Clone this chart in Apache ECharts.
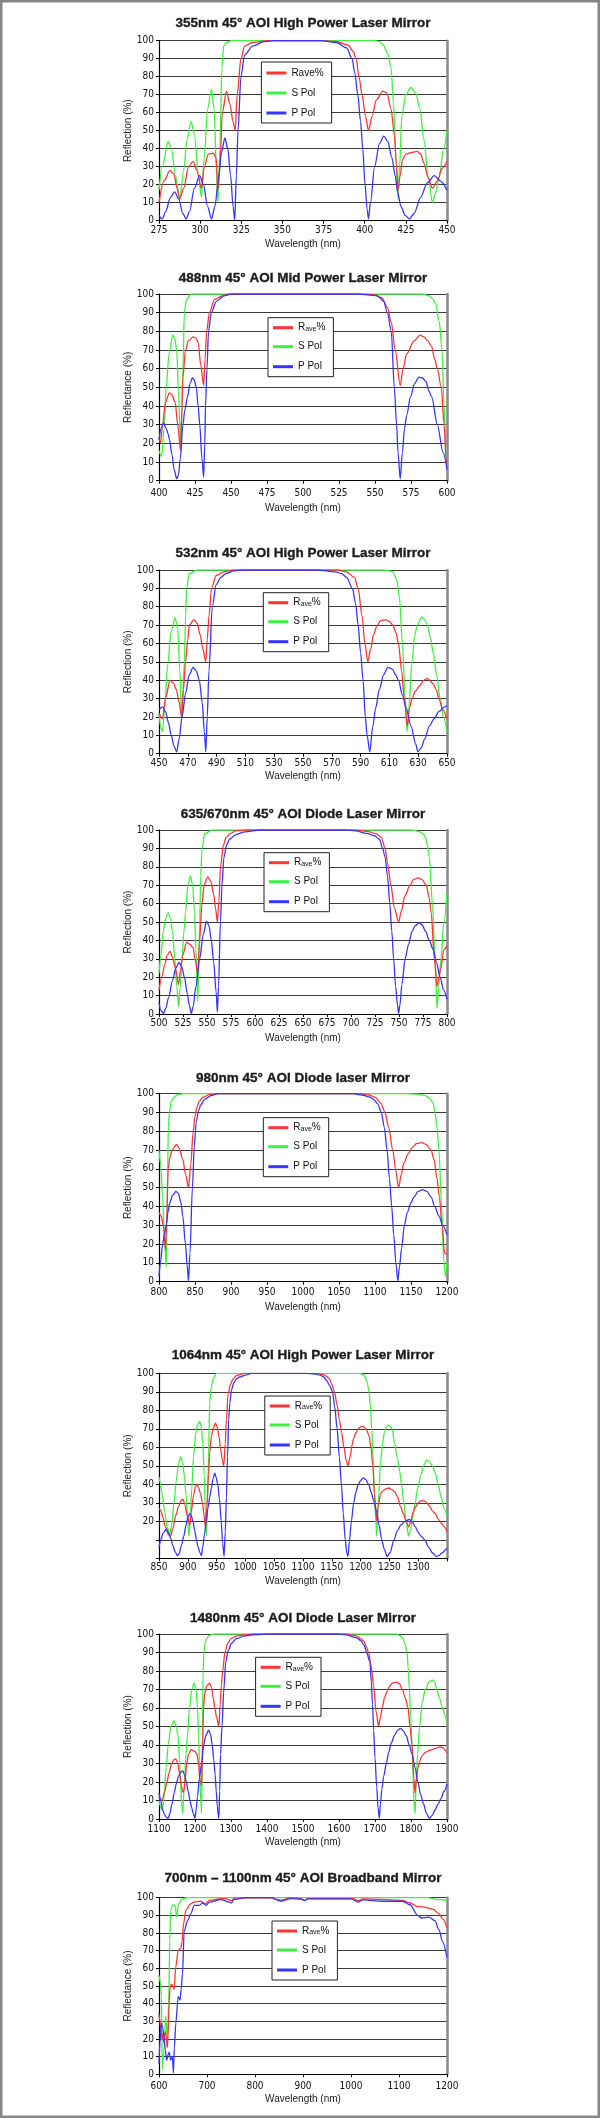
<!DOCTYPE html>
<html><head><meta charset="utf-8">
<script src="https://cdn.jsdelivr.net/npm/echarts@6/dist/echarts.min.js"></script>
<style>html,body{margin:0;padding:0;background:#fff}#c{width:600px;height:2118px}</style>
</head><body><div id="c"></div>
<script>
// ---------- DATA ----------
const titles = [
  '355nm 45° AOI High Power Laser Mirror',
  '488nm 45° AOI Mid Power Laser Mirror',
  '532nm 45° AOI High Power Laser Mirror',
  '635/670nm 45° AOI Diode Laser Mirror',
  '980nm 45° AOI Diode laser Mirror',
  '1064nm 45° AOI High Power Laser Mirror',
  '1480nm 45° AOI Diode Laser Mirror',
  '700nm – 1100nm 45° AOI Broadband Mirror'
];
const yNames = ['Reflection (%)','Reflectance (%)','Reflection (%)','Reflection (%)','Reflection (%)','Reflection (%)','Reflection (%)','Reflectance (%)'];
const xName = 'Wavelength (nm)';
// [min, max, step] of wavelength axis
const xRanges = [[275,450,25],[400,600,25],[450,650,20],[500,800,25],[800,1200,50],[850,1350,50],[1100,1900,100],[600,1200,100]];
const legendNames = ['Rave%','S Pol','P Pol'];

// 355nm
const S1 = [[275,17],[277,30],[280.6,44],[282.5,40],[285,25],[287.6,12],[290,28],[292,45],[294.5,55],[296.5,48],[299,25],[300.8,13],[302.5,35],[304.5,62],[306.9,73],[308.5,62],[310,25],[310.8,10],[312,40],[313.2,85],[314.3,97],[316,99],[319,100],[406,100],[409,99.5],[411,98],[414,93],[416,85],[417.5,65],[419,35],[420.2,12],[421.2,30],[422.5,58],[425,70],[428,74],[431,71],[433.5,62],[436,45],[438.5,25],[441.2,10],[443,15],[445,23],[448,40],[450,50]];
const R1 = [[275,10],[278,22],[281.7,28],[284,26],[286,18],[287.6,12],[290,18],[293,30],[295.7,33],[298,28],[300.8,18],[302.5,30],[305,37],[308,37.5],[309.7,35],[310.8,17],[312,30],[313.5,60],[316,72],[318,65],[320,55],[321.3,50],[322.5,70],[324.8,90],[327,97],[331.8,99],[341,100],[373.7,100],[383,99.5],[390,97.5],[393,94],[394.8,90],[396.5,80],[398.4,70],[400.5,58],[402.3,50],[404.5,58],[407,67],[411,72],[413.5,71],[416,62],[418,48],[419.2,32],[420.2,17],[421.5,25],[423,34],[425,37],[429,38],[432,38.5],[434,37],[436,32],[438.5,24],[441.2,18],[444,22],[447,29],[450,33]];
const P1 = [[275,3],[277,1],[279,5],[282,13],[284.5,16],[287,12],[289.5,4],[291.5,1],[293.5,5],[296.5,18],[299.7,25],[302,20],[304.5,8],[306.9,1],[309,8],[311,22],[313,38],[315,46],[316.8,40],[318.5,25],[320,8],[321,0.3],[322,25],[323,50],[324.8,80],[327,92],[331.8,97],[339,99.5],[345,100],[373,100],[383,99],[389,96],[392.3,90],[394,82],[395.8,70],[397.5,55],[398.8,40],[400.2,20],[401.5,6],[402.3,1],[403.5,10],[406,30],[409,43],[411.6,47],[414,44],[416.5,35],[418.5,25],[420,16],[422,8],[424.5,3],[427.2,1],[430,4],[434,13],[438,21],[442.3,25],[446,22],[450,17]];

// 488nm
const S2 = [[400,16],[401.9,13],[403.5,28],[405,50],[407,68],[409.6,78],[411,76],[412.3,70],[413.5,48],[415,18],[415.8,35],[416.6,60],[417.6,90],[419,97],[422.4,100],[582.6,100],[587.9,99],[590,97.5],[592,95],[594.7,85],[596.5,70],[598,40],[599.3,15],[600,10]];
const R2 = [[400,23],[401,20],[402.5,30],[404.5,42],[407.2,47],[409,46],[411.2,42],[413,30],[415,16],[416,40],[416.6,55],[418.4,70],[420.5,75],[423.8,77],[426,76],[427.2,74],[429,62],[431,51],[432,65],[433.1,80],[435,90],[438.5,97],[443.8,99],[449,100],[540,100],[549.3,99.5],[554.6,98],[558.6,93],[561.3,85],[564,70],[567.5,51],[569.5,60],[572,68],[577.3,75],[581.3,78],[584,77],[586.6,75],[589.3,72],[591.5,65],[593.3,60],[596,50],[598,30],[599.3,12],[600,10]];
const P2 = [[400,22],[401.5,28],[403.2,31],[405,28],[406.4,25],[407.3,22],[409,14],[410.5,6],[412.3,1],[413.5,3],[414.8,12],[416.6,30],[418,38],[419.8,45],[421.5,52],[423.2,55],[424.5,54],[425.9,50],[427.2,40],[428.3,30],[429.8,12],[431,2],[431.8,20],[432.3,40],[433.3,60],[434.4,80],[436.3,90],[439.8,96],[445.1,99],[450.5,100],[536,100],[545,99.5],[551.9,99],[556,96],[558.6,90],[561.3,80],[563.4,50],[565,30],[566,15],[567.5,1],[569,15],[570.5,28],[572,35],[574.7,45],[577.5,52],[580.5,55.5],[583,55],[585.4,53],[587.5,48],[589.3,45],[593.3,30],[597.3,15],[600,6]];

// 532nm
const S3 = [[450,22],[451,15],[452.4,12],[454,25],[456,48],[458.5,67],[461.2,74],[463,68],[464.5,45],[465.7,20],[466.7,35],[467.6,50],[468.5,75],[469.2,90],[471,98],[476.4,100],[605.7,100],[610,99.5],[612.4,99],[615,95],[617,85],[619,60],[621,30],[622.3,12],[623.5,25],[625.7,50],[627.5,64],[629.3,70],[632.4,74.5],[634.5,73],[636.4,70],[638.5,63],[640.4,55],[643,42],[645.2,30],[647.5,20],[650,12]];
const R3 = [[450,22],[452.4,19],[454.5,30],[457.7,40],[460,38.5],[462,35],[464,28],[465.7,20],[467,35],[468.4,50],[470,62],[471,70],[474.3,73],[476.5,71],[478.5,65],[480.5,57],[482.5,50],[483.5,62],[484.7,75],[486.5,90],[489.7,97],[495,99],[503,100],[573.7,100],[580.3,99],[585.7,96],[588.3,90],[591,75],[593,60],[595,50],[597,57],[599,65],[601.6,70],[604,72.5],[607,73],[610,72],[612.4,70],[614.5,66],[616.3,60],[618.5,45],[620.3,30],[622.5,15],[624,25],[625.7,30],[628,34],[631,37],[634,40],[636.4,41],[638.5,39.5],[640.4,38],[642.5,35],[644.4,30],[647,24],[650,19]];
const P3 = [[450,24],[452.4,25.5],[454.5,23],[456.5,17],[458.5,10],[460.5,4],[462.3,1],[464,8],[466,20],[468.5,33],[471,43],[473.7,47],[476,45],[478,40],[480,28],[481.5,12],[482.5,1],[483.5,20],[484.7,45],[487,80],[489.7,92],[493,96],[496.4,98],[502,99.5],[509.7,100],[559,100],[566,99.6],[572.4,99],[577,98],[580.3,96],[584.3,90],[586.5,82],[588.3,70],[590,55],[591.7,40],[593.3,20],[594.5,10],[596.4,1],[598.5,15],[600.5,25],[603,35],[606,43],[609,47],[612,46],[614.3,43],[616.3,40],[619,32],[621.6,25],[625,15],[628.4,5],[629.7,1],[632,3],[634.5,8],[637.7,15],[641,19],[644.5,23],[648.3,25.5],[650,26]];

// 635/670nm
const S4 = [[500,22],[502,32],[504.5,45],[507,52],[509.6,55],[512,52],[514,45],[516.5,30],[518.5,15],[520.4,4],[522,14],[524,30],[526,45],[527.6,55],[530,70],[532.8,75],[535,70],[537,55],[538.5,35],[540.4,7],[541.5,28],[542.4,50],[543.5,75],[544.8,90],[547.6,98],[555.6,100],[763.6,100],[768,99.5],[771.6,99],[775,98],[777.6,96],[779.5,92],[781.6,85],[784.8,60],[787.6,30],[789.6,3],[791.5,15],[793.6,30],[796.8,50],[800,66]];
const R4 = [[500,13],[503,20],[506,27],[508.5,32],[511.6,34],[514,31],[517,25],[520.4,16],[522.5,24],[524.8,32],[528.8,39],[532,38],[535.6,36],[537.5,30],[540.4,22],[542,38],[544.8,60],[547,70],[550.8,74.5],[554,72],[557,65],[559,57],[560.8,50],[562.5,62],[564,80],[567.2,92],[570,96],[574,98],[580,99.5],[589.6,100],[703.6,100],[712,99.5],[719.6,99],[726,98],[731.6,96],[735.6,90],[738,82],[741.6,70],[745,58],[749.6,50],[752.5,56],[756,64],[761.6,70],[765,73],[769.6,74],[774,73],[778.4,70],[781.5,63],[783.5,55],[786.8,30],[789.6,15],[791.5,20],[793.6,25],[796.8,35],[800,37]];
const P4 = [[500,6],[502,2],[504.8,0.3],[507,3],[510,9],[514,18],[517.5,25],[520.8,28],[523.5,26],[526.5,20],[529.5,11],[531.5,5],[533.6,0.3],[535.5,4],[538.5,15],[542.4,30],[546,43],[549.6,50.5],[552,48],[554.5,40],[557,28],[559.5,12],[560.8,1],[562,15],[564,50],[565.6,70],[567.6,85],[570.5,92],[573.6,95],[580,97.5],[589.6,99],[605.6,100],[693.6,100],[705,99.5],[717.6,98],[724,97],[729.6,95],[733,90],[735.6,85],[738,75],[740.4,60],[742.5,45],[744.4,30],[746.5,15],[748.4,5],[749.6,0.3],[751,5],[753,16],[756.4,30],[760,38],[763.6,45],[767,48],[770.8,49.5],[774,48.5],[777.6,45],[781.5,40],[785.6,35],[789,28],[792.8,20],[796.5,13],[800,8]];

// 980nm
const S5 = [[800,70],[802.5,62],[805,45],[807.5,25],[810.1,8],[811,30],[812,60],[813,82],[814.5,90],[817,96],[820.8,98],[826,99.5],[834,100],[1143,100],[1160,99.8],[1170,99],[1176,97.5],[1180.8,95],[1183.5,90],[1186,82],[1188.8,70],[1192.5,40],[1195.7,10],[1197.9,3],[1199,6],[1200,10]];
const R5 = [[800,37],[803,35],[806,30],[809,17],[810.5,30],[812.8,60],[815,66],[818,70],[824.5,73],[828,71],[833,65],[837,57],[841,50],[844,62],[847.5,80],[850,88],[852.8,93],[856,96],[860.8,98],[870,99.5],[882,100],[1079.5,100],[1092,99.3],[1100.8,98],[1108,95],[1114,90],[1119,82],[1124.8,70],[1128.5,60],[1132.8,50],[1136.5,57],[1140,63],[1146,68],[1152,71.5],[1158,73.5],[1164.8,74],[1171,73],[1178,70],[1182,65],[1186,55],[1189.5,45],[1193,30],[1196.8,15],[1200,15]];
const P5 = [[800,3],[802,10],[805,20],[808,26],[810,30],[812.5,37],[815,42],[819,46],[823.5,48],[827,47],[830.5,42],[833,35],[836.8,20],[839,9],[841,0.3],[843,15],[846.4,50],[849,72],[851.7,85],[855,91],[858,94],[863.5,97],[872,99],[882,100],[1068.8,100],[1082,99.3],[1092,98.3],[1098,97],[1104,94.5],[1108.8,90],[1113,82],[1116.8,70],[1120,55],[1123.2,40],[1126,25],[1129,10],[1131.7,0.3],[1134,8],[1137,18],[1140.8,30],[1145,37],[1150,42],[1154,45],[1160,48],[1166.4,49],[1172,48],[1178,45],[1183,40],[1188.8,35],[1194,30],[1200,25]];

// 1064nm
const S6 = [[850,44],[852,41],[855,35],[860,25],[864,17],[868.6,13],[872,18],[876,30],[880,42],[884,51],[887.7,55],[891,52],[894,45],[897,34],[900,20],[902,12],[904,20],[907,38],[910,55],[914,68],[917,72],[920.7,74],[923.5,71],[926,62],[928.5,45],[930.5,25],[932.3,12],[934,28],[936,55],[938,84],[941,93],[944,97],[949.7,100],[1198,100],[1204,99.4],[1208,98],[1211.5,95],[1214.7,90],[1217,82],[1219.3,70],[1221.5,55],[1223.3,40],[1226,22],[1228,12],[1229.5,22],[1231.3,34],[1234.7,52],[1238,62],[1241.3,68],[1244.5,71],[1248,72],[1251,71.5],[1254.7,70],[1259,62],[1264,54],[1268,47],[1271,40],[1274.7,30.6],[1279,20],[1283.3,12],[1287,16],[1291,23],[1294.7,30],[1299,38],[1304.7,45],[1309,50],[1314.7,53],[1319,52.5],[1324.7,50],[1330,46],[1334.7,40],[1340,33],[1345,27],[1350,23]];
const R6 = [[850,27],[853,26],[857,22],[861,17],[866,13],[870,12],[874,16],[879,23],[884,28],[888,31],[891.7,32],[895,29],[899,23],[903.4,18],[906,25],[910,34],[913,38.5],[916,40],[919,38],[922,35],[925.5,30],[928,24],[930.6,17],[933,28],[936,45],[938,57],[941,66],[944,70],[948,73],[951,71],[954,66],[957,59],[960,53],[962.4,50],[965,62],[967,75],[970,89],[974,94],[978.6,97],[985,98.8],[999,100],[1124.7,100],[1132,99.5],[1138,99],[1142,98],[1146,97],[1150,94],[1154.7,90],[1159,83],[1163.3,75],[1167,68],[1171,60],[1175,53],[1178,50],[1182,55],[1185,61],[1188,65],[1192,68],[1197,70.5],[1203.3,71.5],[1208,70.5],[1211,69],[1214.7,66],[1218,60],[1221.3,50],[1224,35],[1228,20],[1230.5,28],[1234.7,35],[1239,36.5],[1244,37.5],[1249,38],[1254.7,37],[1259,36],[1264.7,33],[1269,28],[1274.7,24],[1279,20],[1283.3,17],[1287,20],[1291,25],[1296,28],[1300,30],[1304.7,31],[1310,31],[1315,30],[1320,28],[1325,25.5],[1330,24],[1335,21],[1340,19],[1345,17],[1350,14.5]];
const P6 = [[850,5.6],[853,10],[857,13.5],[862.8,15.7],[866,14],[870,11],[874,7],[878,3.5],[882,1.5],[885,2.5],[889,7],[893,12],[897,18],[900,22],[903.4,24.3],[906,23],[909,20],[912,15],[915,10],[918,6],[921,3],[923.7,1.5],[926,6],[929,13],[932,20],[935,27],[938,33],[941,38],[944,43],[946.8,46],[949,44],[952,40],[955,32],[958,20],[960.5,8],[963,1],[965,14],[967,33],[969,55],[971,75],[973,84],[975.8,91],[980,95],[984.5,97],[990,98],[1000,99],[1010.6,100],[1104.7,100],[1120,99.7],[1130,99],[1136,98],[1141.3,96],[1146,93.5],[1151.3,90],[1155,82],[1159.3,70],[1163,55],[1166.7,40],[1170,24],[1173.3,10],[1176,3],[1178,1],[1180.5,9],[1184,20],[1188,30],[1192,36],[1196,40],[1200,42],[1204.7,43.5],[1209,42.5],[1214,40],[1218,36],[1223,31],[1228,25],[1232,18],[1236.7,10],[1241,5],[1246,1],[1251,3],[1258,10],[1264,15],[1270,18],[1277,20],[1284.7,21],[1290,19.5],[1295,17],[1300,14],[1305,12],[1311.3,10],[1318,6],[1324.7,3],[1331.3,1],[1336,1.5],[1342,3],[1348.7,5],[1350,5.5]];

// 1480nm
const S7 = [[1100,10],[1105,6],[1109.6,5],[1114,12],[1120,28],[1125.6,40],[1133,50],[1141.6,53],[1148,50],[1153,45],[1157,32],[1160,18],[1163,8],[1166,3],[1170,18],[1175,35],[1179,45],[1185,60],[1191,70],[1198,73.5],[1203,70],[1207,60],[1210,45],[1213,25],[1216,10],[1218.4,3],[1220.5,45],[1222.5,80],[1224.8,90],[1228,95],[1232,97.5],[1240,99.3],[1253.6,100],[1760,100],[1768,99.3],[1776,98],[1783,95],[1789,90],[1792,82],[1795.5,70],[1799,55],[1803,40],[1806,22],[1808,10],[1811.5,3],[1814,18],[1818,35],[1824,50],[1831,63],[1840,70],[1850,74],[1859.5,75],[1866,74],[1872,70],[1880,65],[1888,60],[1894,56],[1900,52]];
const R7 = [[1100,12],[1105,10],[1110,11],[1116,15],[1122,20],[1128,25],[1135,30],[1141,32],[1147,32.5],[1152,30],[1157,25],[1162,18],[1166,14.5],[1169,15],[1173,22],[1177,30],[1182,35],[1189.6,37.5],[1195,37],[1200,36.5],[1205.6,35],[1210,30],[1213,22],[1216,20],[1218.4,18],[1220.5,35],[1223.7,60],[1227,68],[1233,72],[1240.8,73.5],[1246,71],[1251,65],[1255,60],[1260,55],[1266.4,50],[1270,62],[1273,72],[1277,80],[1283,90],[1291,95],[1300,97.5],[1317.6,99],[1340,99.7],[1360,100],[1616,100],[1635,99.5],[1648,99],[1660,97.5],[1669.6,96],[1676,93],[1682.4,90],[1689,83],[1696.3,72],[1703,58],[1710,50],[1715,55],[1720,60],[1727,66],[1733.6,69],[1740,71.5],[1748,73.5],[1760,74],[1768,73],[1776,70],[1783,66],[1792,60],[1797,50],[1803,40],[1808,22],[1811.5,14],[1815,22],[1820,28],[1824,31],[1830,34],[1840,36],[1850,37],[1867,38],[1875,38.7],[1883,39],[1890,38.5],[1895,37],[1900,35.5]];
const P7 = [[1100,14],[1105,10],[1110,5],[1115,2.5],[1120,1],[1125.6,0.3],[1130,3],[1136,8],[1142,14],[1148,19],[1154,23],[1160,25.5],[1166,26],[1171,24],[1176,20],[1181,15],[1186,10],[1191,6],[1195,3],[1200,0.3],[1203,5],[1207,12],[1212,22],[1218.4,30],[1224,40],[1230,45],[1237.6,48],[1243,46],[1248,40],[1252,32],[1256,24],[1259,15],[1262,7],[1264.5,2],[1266.4,0.3],[1268.5,15],[1271,35],[1275,50],[1280,70],[1285.6,85],[1292,91],[1301.6,95],[1315,97.5],[1339,99],[1370,99.7],[1403,100],[1595,100],[1620,99.5],[1648,98],[1660,96.5],[1669.6,94],[1677,90],[1685.6,85],[1690,74],[1693,62],[1696.3,48],[1700,33],[1704.8,17],[1708.5,6],[1712,0.3],[1715,8],[1719,16],[1724,23],[1731.5,30],[1738,36],[1745,41],[1755,45.5],[1763,48],[1771,49],[1779,47.5],[1787,45],[1795,40],[1803,35],[1811,28],[1819,20],[1827,13],[1835,8],[1843,3],[1851,0.3],[1859,2],[1867,5],[1875,8],[1883,11],[1892,15],[1900,19]];

// 700-1100nm broadband
const S8 = [[600,56],[603,52],[605,45],[607,2.5],[610.5,15],[614,33],[617.5,19],[620.3,42],[622.4,76],[624.5,93],[629.4,96],[633.6,95.5],[637,89],[640.6,96.5],[649,99.4],[659,100],[1160,100],[1180,99],[1200,98.5]];
const R8 = [[600,34],[602,30],[604,24],[606,20],[608,23],[610,18],[613,24],[615,22],[617,15],[619,22],[621,40],[623,49],[626,51],[629,50],[631.5,48],[635,61],[640,70],[645.5,71.5],[648,75],[651,85],[656,93],[666,96.5],[673,97.5],[687,98],[693,97],[696,96.5],[705,98.5],[729,99.4],[740,99.5],[747,98.5],[752,98.5],[757,99.8],[830,100],[848,99],[855,98.5],[862,99],[870,100],[895,99.5],[903,98.5],[910,99.5],[1005,99.5],[1015,98.3],[1025,99.3],[1060,99],[1107,98.5],[1123,97],[1139,95],[1155,94.5],[1171,93.5],[1183,91],[1191,88],[1200,83]];
const P8 = [[600,6],[602,18],[605,29],[608,26],[610.5,21],[613,14],[616,8],[619,11],[621,12.6],[624.5,8],[628,10],[630,0.8],[632,15],[635,29],[640,44],[644,42],[646,48],[649,57],[652.4,81],[659.4,87],[666.4,91],[673.4,95.7],[684,95.7],[691,97],[698,95.7],[705,97.5],[729,98.9],[747,97.5],[751,97],[756,99],[780,100],[835,100],[848,98.5],[855,98],[862,98.7],[875,99.5],[898,99.2],[903,98.3],[910,99.3],[1000,99.3],[1015,97.5],[1025,98.8],[1067,98],[1107,98],[1123,96],[1139,90],[1147,88.5],[1163,89],[1175,87],[1183,82],[1191,75],[1200,66]];

const sPol = [S1,S2,S3,S4,S5,S6,S7,S8];
const rAve = [R1,R2,R3,R4,R5,R6,R7,R8];
const pPol = [P1,P2,P3,P4,P5,P6,P7,P8];

// ---------- LAYOUT (pixels) ----------
const layout = [
  {gTop:40.7,  gH:180,   tY:24,     lL:261.4, lT:62,     xl:10,   xn:24.3},
  {gTop:294,   gH:186.7, tY:278.3,  lL:268,   lT:317.7,  xl:12.6, xn:28.3},
  {gTop:570,   gH:183.7, tY:553.3,  lL:263.3, lT:592.7,  xl:9.3,  xn:23.3},
  {gTop:830,   gH:184,   tY:814.7,  lL:264,   lT:852.7,  xl:9.3,  xn:24.3},
  {gTop:1093.7,gH:188,   tY:1079,   lL:263.3, lT:1117.7, xl:10.6, xn:25.6},
  {gTop:1373.3,gH:185,   tY:1356,   lL:264.8, lT:1396,   xl:8.7,  xn:23.7},
  {gTop:1634,  gH:185,   tY:1619,   lL:255.6, lT:1657.3, xl:10,   xn:23.7},
  {gTop:1897.7,gH:176.6, tY:1878.3, lL:272,   lT:1921,   xl:12.4, xn:25.7}
];
const GL = 159, GW = 288;
const RED = '#ff3434', GREEN = '#3ff03f', BLUE = '#3535ff';
const NARROW = '"Liberation Sans Narrow","Arial Narrow","DejaVu Sans Condensed",sans-serif';
const SANS = '"Liberation Sans",Arial,sans-serif';

const option = {
  animation:false,
  backgroundColor:'#fff',
  title:[], legend:[], grid:[], xAxis:[], yAxis:[], series:[],
  graphic:[{type:'rect', silent:true, shape:{x:1.25,y:1.25,width:597.5,height:2115.5}, style:{fill:null, stroke:'#858585', lineWidth:2.5}}]
};

layout.forEach((L,i)=>{
  const [xmin,xmax,xstep] = xRanges[i];
  option.title.push({text:titles[i], left:303, top:L.tY-7.5, textAlign:'center', padding:0,
    textStyle:{fontSize:13.5, fontWeight:'bold', fontFamily:SANS, color:'#1c1c1c',
      textBorderColor:'#1c1c1c', textBorderWidth:0.35}});
  option.grid.push({left:GL, top:L.gTop, width:GW, height:L.gH, containLabel:false});
  option.xAxis.push({type:'value', gridIndex:i, min:xmin, max:xmax, interval:xstep,
    name:xName, nameLocation:'middle', nameGap:L.xn-5.5,
    nameTextStyle:{fontSize:10, fontFamily:SANS, color:'#222'},
    axisLine:{show:true, onZero:false, lineStyle:{color:'#000', width:1.2}},
    axisTick:{show:true, length:3, lineStyle:{color:'#000'}},
    axisLabel:{fontSize:10, fontFamily:NARROW, color:'#111', margin:L.xl-5,
      formatter: v => (i===5 && v===1350) ? '' : String(v)},
    splitLine:{show:false}});
  option.yAxis.push({type:'value', gridIndex:i, min:0, max:100, interval:10,
    name:yNames[i], nameLocation:'middle', nameGap:18,
    nameTextStyle:{fontSize:10, fontFamily:SANS, color:'#222'},
    axisLine:{show:true, lineStyle:{color:'#000', width:1.2}},
    axisTick:{show:true, length:3, lineStyle:{color:'#000'}},
    axisLabel:{fontSize:10, fontFamily:NARROW, color:'#111', margin:5,
      formatter: v => (i===5 && v<20) ? '' : String(v)},
    splitLine:{show:true, lineStyle:{color:'#3a3a3a', width:1.2}}});
  option.yAxis.push({type:'value', gridIndex:i, min:0, max:100, position:'right',
    axisLine:{show:true, lineStyle:{color:'#8a8a8a', width:2.5}},
    axisTick:{show:false}, axisLabel:{show:false}, splitLine:{show:false}});
  const mk = (name, data, color) => ({type:'line', name, data, xAxisIndex:i, yAxisIndex:i*2,
    showSymbol:false, symbol:'none', smooth:0.3, smoothMonotone:'x', silent:true,
    lineStyle:{width:1.3, color}, itemStyle:{color}});
  option.series.push(mk('S Pol', sPol[i], GREEN));
  option.series.push(mk('Rave%', rAve[i], RED));
  option.series.push(mk('P Pol', pPol[i], BLUE));
  option.legend.push({data:legendNames, orient:'vertical', left:L.lL, top:L.lT,
    padding:[5,8,4,5], itemWidth:20, itemHeight:3, itemGap:8, icon:'rect',
    borderColor:'#222', borderWidth:1, backgroundColor:'#fff', selectedMode:false,
    textStyle:{fontSize:10, fontFamily:SANS, color:'#111', lineHeight:12,
      rich:{a:{fontSize:10, fontFamily:SANS, color:'#111', lineHeight:10, verticalAlign:'top'},
            b:{fontSize:7, fontFamily:SANS, color:'#111', lineHeight:8, verticalAlign:'bottom'}}},
    formatter: name => (name==='Rave%' && i>0) ? '{a|R}{b|ave}{a|%}' : name});
});

const chart = echarts.init(document.getElementById('c'), null, {renderer:'canvas'});
chart.setOption(option);
</script>
</body></html>
